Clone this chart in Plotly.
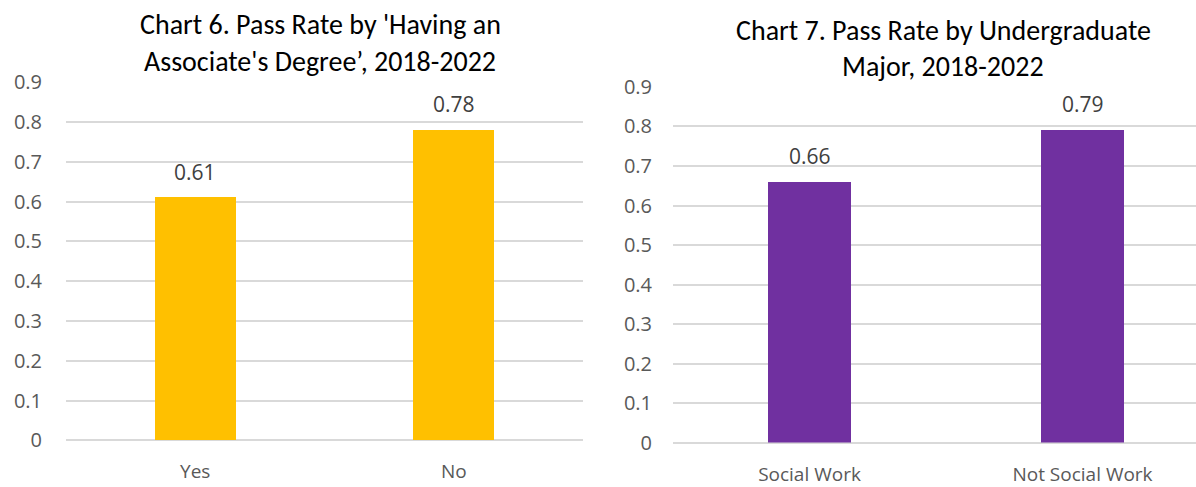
import plotly.graph_objects as go

# Chart 6: pass rate by associate's degree
degree_categories = ["Yes", "No"]
degree_pass_rates = [0.61, 0.78]

# Chart 7: pass rate by undergraduate major
major_categories = ["Social Work", "Not Social Work"]
major_pass_rates = [0.66, 0.79]

y_tick_values = [0, 0.1, 0.2, 0.3, 0.4, 0.5, 0.6, 0.7, 0.8, 0.9]
y_tick_labels = ["0", "0.1", "0.2", "0.3", "0.4", "0.5", "0.6", "0.7", "0.8", "0.9"]

chart6_title_lines = ["Chart 6. Pass Rate by 'Having an", "Associate's Degree’, 2018-2022"]
chart7_title_lines = ["Chart 7. Pass Rate by Undergraduate", "Major, 2018-2022"]

W, H = 1196, 487
TITLE_FONT = "Carlito, Lato, sans-serif"
BODY_FONT = "Open Sans, Noto Sans, sans-serif"
GRID = "#D9D9D9"
TICK_COLOR = "#595959"
LABEL_COLOR = "#404040"

fig = go.Figure()

fig.add_trace(go.Bar(
    x=degree_categories, y=degree_pass_rates, marker_color="#FFC000",
    marker_line_width=0, width=0.313, xaxis="x", yaxis="y",
    hoverinfo="x+y", showlegend=False,
))
fig.add_trace(go.Bar(
    x=major_categories, y=major_pass_rates, marker_color="#7030A0",
    marker_line_width=0, width=0.305, xaxis="x2", yaxis="y2",
    hoverinfo="x+y", showlegend=False,
))

yaxis_common = dict(
    range=[0, 0.9], tickvals=y_tick_values, ticktext=y_tick_labels,
    showgrid=True, gridcolor=GRID, gridwidth=2,
    zeroline=True, zerolinecolor=GRID, zerolinewidth=2,
    showline=False, ticks="", fixedrange=True,
    tickfont=dict(family=BODY_FONT, size=20, color=TICK_COLOR),
)
xaxis_common = dict(
    type="category", showgrid=False, zeroline=False, showline=False,
    ticks="", fixedrange=True, ticklabelstandoff=18,
    tickfont=dict(family=BODY_FONT, size=19, color=TICK_COLOR),
)

fig.update_layout(
    width=W, height=H,
    margin=dict(l=0, r=0, t=0, b=0),
    paper_bgcolor="white", plot_bgcolor="white",
    bargap=0,
    xaxis=dict(xaxis_common, domain=[66 / W, 583 / W], range=[-0.5, 1.5],
               anchor="y"),
    yaxis=dict(yaxis_common, domain=[0.042, 0.8466], anchor="x",
               ticklabelstandoff=23),
    xaxis2=dict(xaxis_common, domain=[673 / W, 1.0],
                range=[-0.5, -0.5 + (W - 673) / 273], anchor="y2"),
    yaxis2=dict(yaxis_common, domain=[0.037, 0.8360], anchor="x2",
                ticklabelstandoff=20),
)

# value labels above each bar
for cats, vals, xa, ya in [
    (degree_categories, degree_pass_rates, "x", "y"),
    (major_categories, major_pass_rates, "x2", "y2"),
]:
    for c, v in zip(cats, vals):
        fig.add_annotation(
            x=c, y=v, xref=xa, yref=ya, text=f"{v:.2f}", showarrow=False,
            yanchor="middle", yshift=26,
            font=dict(family=BODY_FONT, size=21, color=LABEL_COLOR),
        )

# chart titles, one annotation per line
for lines, xc, ys in [
    (chart6_title_lines, 320, [12, 52]),
    (chart7_title_lines, 943, [18, 57]),
]:
    for text, yp in zip(lines, ys):
        fig.add_annotation(
            x=xc / W, y=1 - yp / H, xref="paper", yref="paper", text=text,
            showarrow=False, xanchor="center", yanchor="middle",
            font=dict(family=TITLE_FONT, size=28, color="#000000"),
        )

fig.write_html("out.html")
